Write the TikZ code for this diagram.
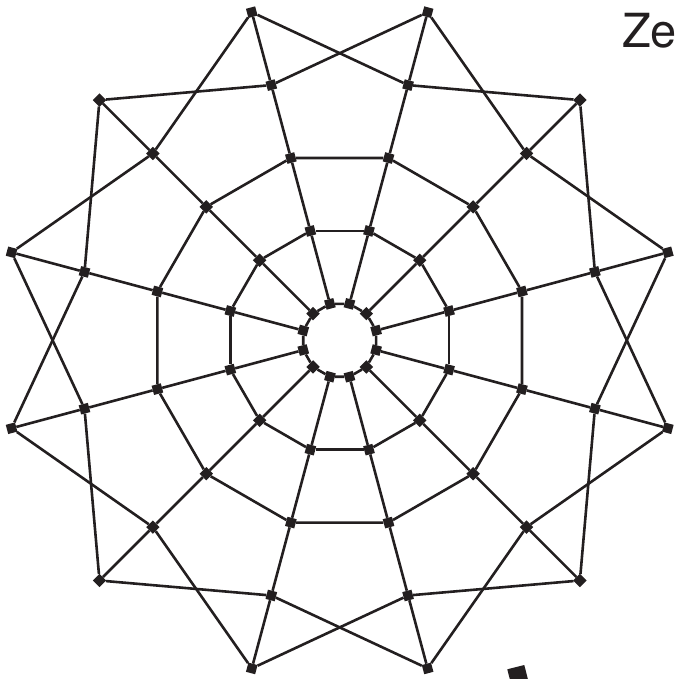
\documentclass[tikz,border=0pt]{standalone}
\usepackage{fontspec}
\setmainfont{TeX Gyre Heros}
\usetikzlibrary{positioning}
\definecolor{ink}{HTML}{231F20}

\begin{document}
\begin{tikzpicture}[x=1pt,y=1pt,
      vtx/.style={rectangle,fill=ink,draw=none,inner sep=0pt,minimum size=9.5pt},
      edge/.style={draw=ink,line width=2.6pt}]

    \clip (-339.7,-338.7) rectangle (335.3,340.3);

    % five rings of twelve vertices
    \foreach \k/\r in {0/37.7,1/113.2,2/188.7,3/264.2,4/339.7}
      \foreach \i in {0,...,11}
        \node[vtx,rotate=15+30*\i] (v\k-\i) at ({15+30*\i}:\r) {};

    % closed rings and spokes
    \foreach \i in {0,...,11}{
      \pgfmathtruncatemacro{\j}{mod(\i+1,12)}
      \foreach \k in {0,1,2}
        \draw[edge] (v\k-\i) -- (v\k-\j);
      \foreach \k/\l in {0/1,1/2,2/3,3/4}
        \draw[edge] (v\k-\i) -- (v\l-\i);
      \draw[edge] (v4-\i) -- (v3-\j);
      \draw[edge] (v4-\j) -- (v3-\i);
    }

    \node[anchor=base west,inner sep=0pt,text=ink,font=\fontsize{47}{50}\selectfont] (title) at (282.3,292.3) {Ze};
    \fill[ink] (167.6,-329) -- (184.6,-324.7) -- (188.9,-341.7) -- (171.9,-346) -- cycle;
  \end{tikzpicture}
\end{document}
